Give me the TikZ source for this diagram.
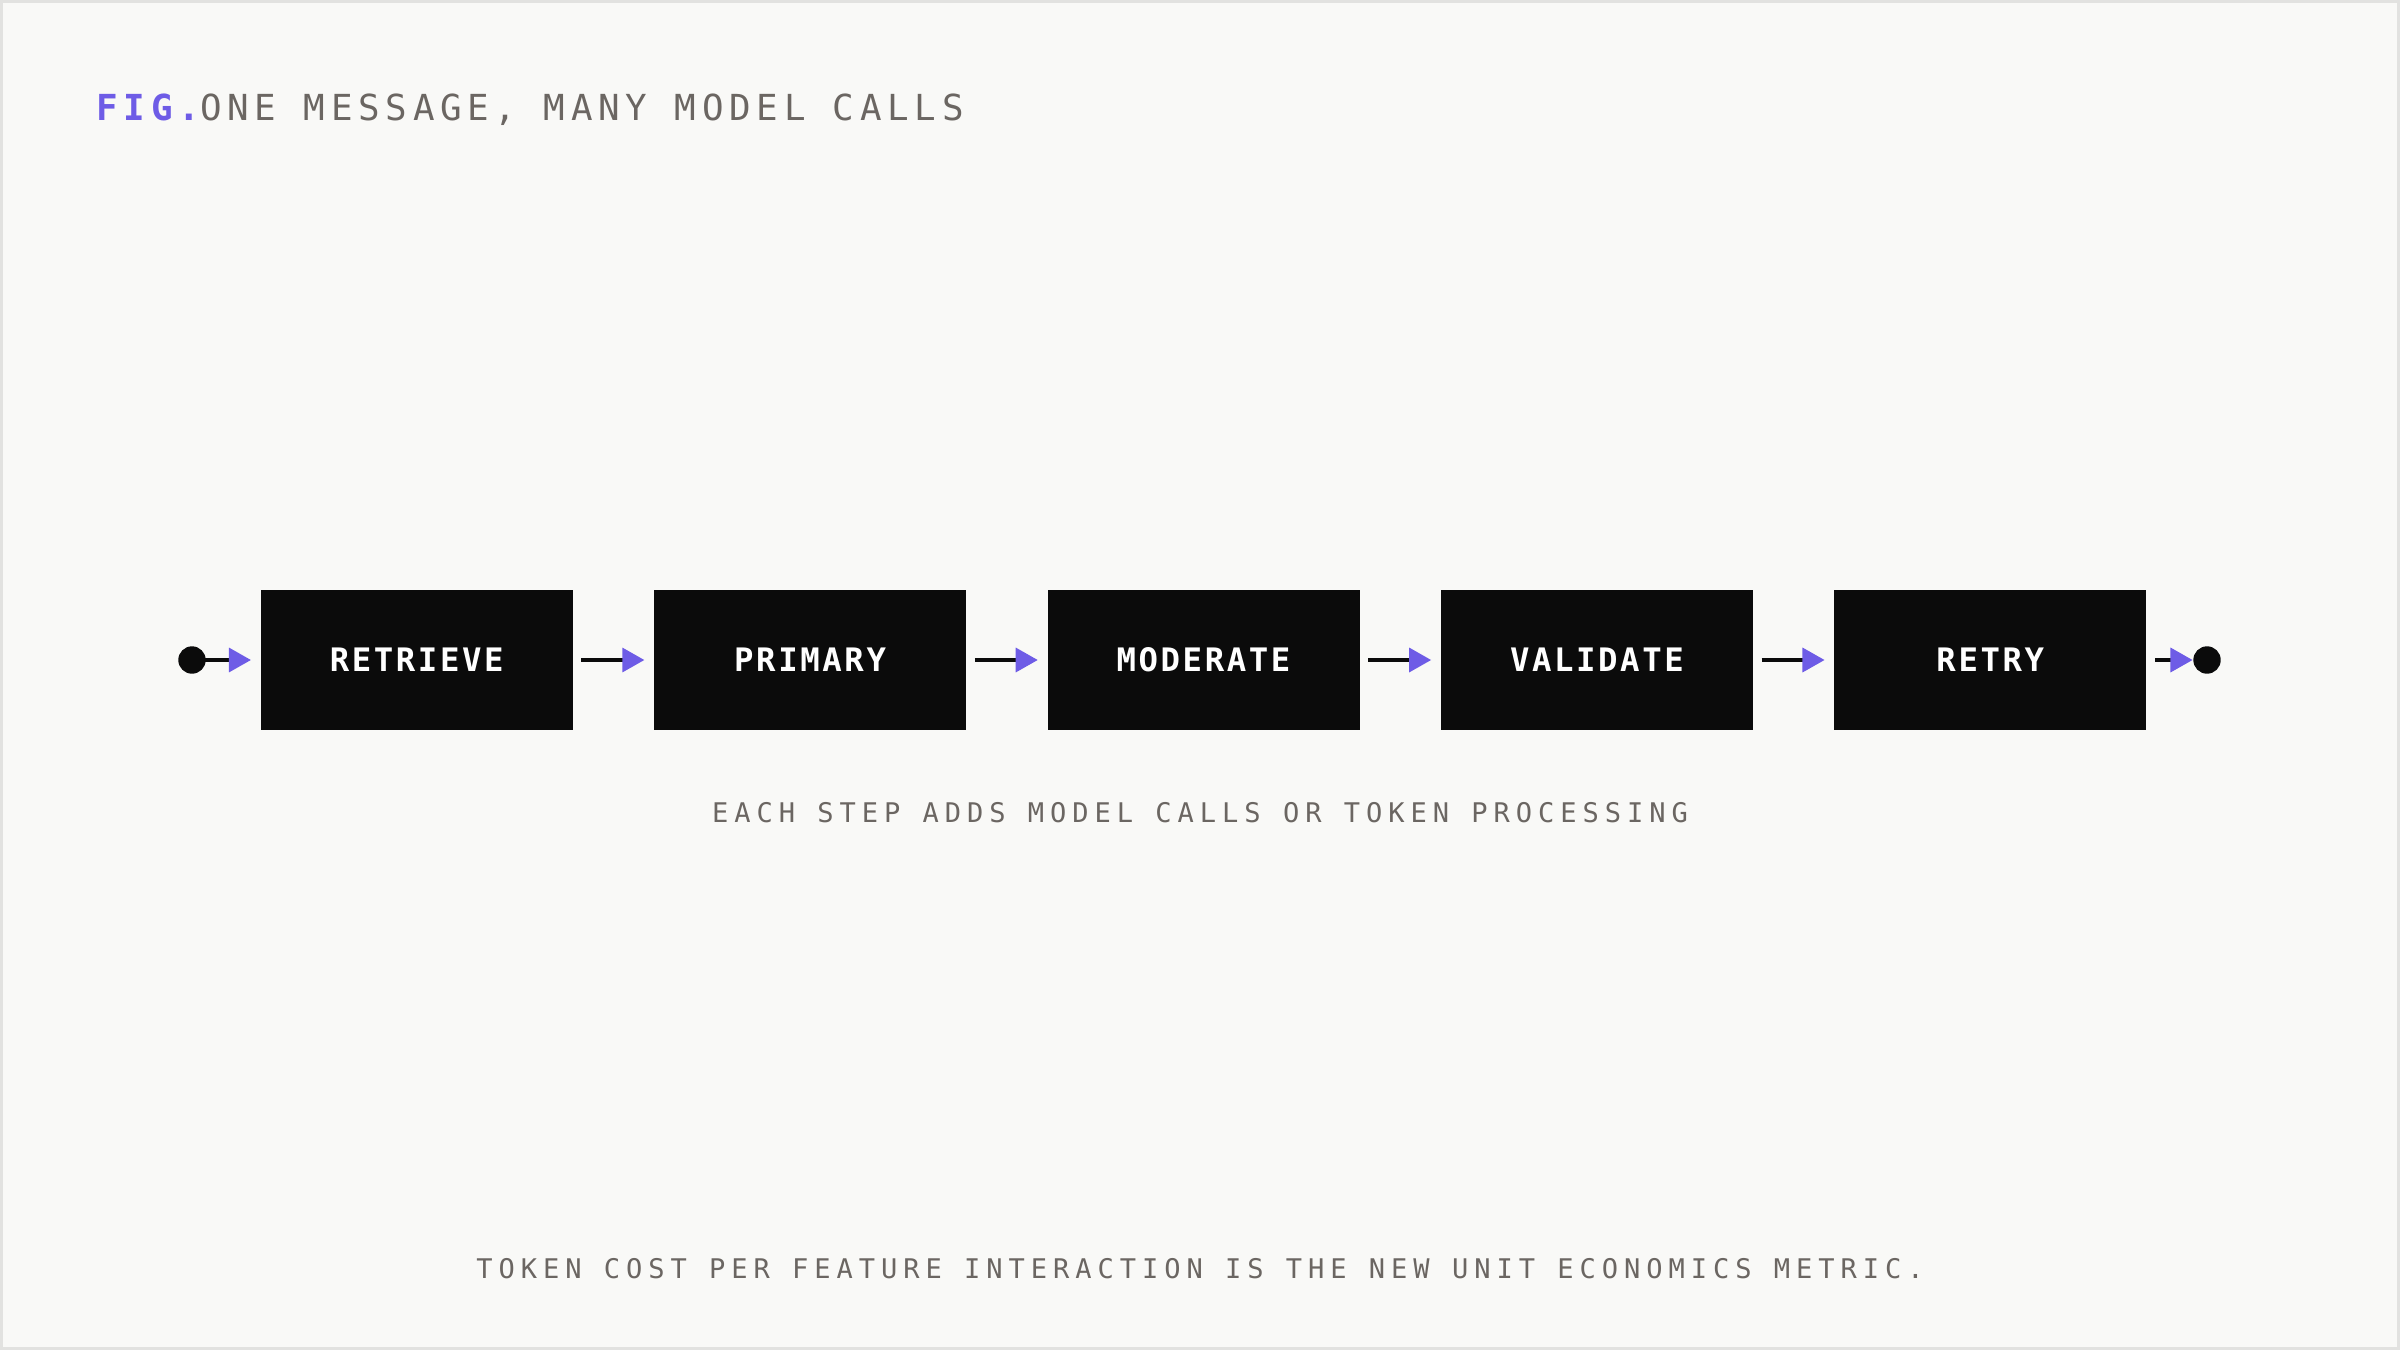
\documentclass[tikz,border=0pt]{standalone}
\usepackage{fontspec}
\setmonofont{DejaVu Sans Mono}
\usetikzlibrary{positioning,arrows.meta}
\definecolor{bgcolor}{HTML}{F9F9F7}
\definecolor{edgecolor}{HTML}{E2E2E0}
\definecolor{boxcolor}{HTML}{0B0B0B}
\definecolor{accent}{HTML}{6E5CE6}
\definecolor{muted}{HTML}{6B6662}
\newfontfamily\stepfont[LetterSpace=8]{DejaVu Sans Mono Bold}
\newfontfamily\titlefont[LetterSpace=16]{DejaVu Sans Mono}
\newfontfamily\notefont[LetterSpace=22]{DejaVu Sans Mono}
\tikzset{
  stepbox/.style={fill=boxcolor,text=white,minimum width=31.2mm,minimum height=14mm,
    inner sep=0pt,font=\stepfont\fontsize{9.2}{11}\selectfont},
  flow/.style={line width=1.1pt,draw=boxcolor,
    -{Triangle[length=6.3pt,width=6.8pt,fill=accent,color=accent]}},
  enddot/.style={circle,fill=boxcolor,minimum size=7.8pt,inner sep=0pt},
  note/.style={text=muted,font=\notefont\fontsize{7.7}{9}\selectfont}
}
\begin{document}
\begin{tikzpicture}[x=0.1mm,y=-0.1mm]
\fill[edgecolor] (0,0) rectangle (2400,1350);
\fill[bgcolor] (3,3) rectangle (2397,1347);
% title
\node[anchor=west,inner sep=0pt,font=\titlefont\fontsize{10.2}{12}\selectfont] (title) at (96,110)
  {\textcolor{accent}{\bfseries FIG.}\textcolor{muted}{ ONE MESSAGE, MANY MODEL CALLS}};
% pipeline
\node[enddot] (start) at (192,660) {};
\node[stepbox,anchor=west] (retrieve) at (260,660) {RETRIEVE};
\node[stepbox,right=8mm of retrieve] (primary) {PRIMARY};
\node[stepbox,right=8mm of primary] (moderate) {MODERATE};
\node[stepbox,right=8mm of moderate] (validate) {VALIDATE};
\node[stepbox,right=8mm of validate] (retry) {RETRY};
\node[enddot] (finish) at (2207,660) {};
\draw[flow] (start.center) -- ([xshift=-0.9mm]retrieve.west);
\foreach \a/\b in {retrieve/primary,primary/moderate,moderate/validate,validate/retry}
  \draw[flow] ([xshift=0.8mm]\a.east) -- ([xshift=-0.9mm]\b.west);
\draw[flow] ([xshift=0.8mm]retry.east) -- (finish.west);
% notes
\node[note] (caption) at (1200,813) {EACH STEP ADDS MODEL CALLS OR TOKEN PROCESSING};
\node[note] (footer) at (1200,1269) {TOKEN COST PER FEATURE INTERACTION IS THE NEW UNIT ECONOMICS METRIC.};
\end{tikzpicture}
\end{document}
